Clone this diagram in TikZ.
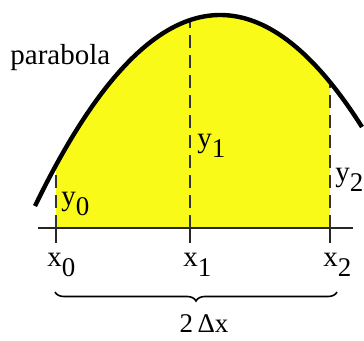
\documentclass[tikz,border=0pt]{standalone}
\usepackage{fontspec}
\setmainfont{Liberation Serif}
\usepackage{tikz}
\usetikzlibrary{decorations.pathreplacing}
\definecolor{areayellow}{RGB}{250,250,25}
\newcommand{\subl}[2]{#1\raisebox{-5pt}{\fontsize{13.5}{14}\selectfont #2}}
\newcommand{\pb}[1]{15+0.005566*(#1-220.2)*(#1-220.2)}
\tikzset{
  lab/.style={inner sep=0pt, font=\fontsize{14.5}{16}\selectfont},
  guide/.style={black!80, line width=0.9pt, dash pattern=on 6.5pt off 3.5pt},
  tick/.style={black!85, line width=0.75pt}
}

\begin{document}
\begin{tikzpicture}[x=0.5pt,y=-0.5pt]
\useasboundingbox (0,0) rectangle (364,341);
\coordinate (x0) at (56,228);
\coordinate (x1) at (190,228);
\coordinate (x2) at (330,228);
\coordinate (p0) at (56,{\pb{56}});
\coordinate (p1) at (190,{\pb{190}});
\coordinate (p2) at (330,{\pb{330}});
\coordinate (axl) at (38,228);
\coordinate (axr) at (353,228);
\fill[areayellow] (x0) -- plot[domain=56:330, samples=60] (\x,{\pb{\x}}) -- (x2) -- cycle;
\draw[tick] (axl) -- (axr);
\draw[tick] (x0) -- ++(0,15);
\draw[tick] (x1) -- ++(0,15);
\draw[tick] (x2) -- ++(0,15);
\draw[guide] (x0) -- (p0);
\draw[guide] (x1) -- (p1);
\draw[guide] (x2) -- (p2);
\draw[line width=2.2pt] plot[domain=35:362, samples=80] (\x,{\pb{\x}});
\node[lab, anchor=base west] (para) at (10,65) {parabola};
\node[lab, anchor=base west] (ylab0) at (61,206) {\subl{y}{0}};
\node[lab, anchor=base west] (ylab1) at (197,148) {\subl{y}{1}};
\node[lab, anchor=base west] (ylab2) at (335,182) {\subl{y}{2}};
\node[lab, anchor=base west] (xlab0) at (47,267) {\subl{x}{0}};
\node[lab, anchor=base west] (xlab1) at (183,267) {\subl{x}{1}};
\node[lab, anchor=base west] (xlab2) at (323,267) {\subl{x}{2}};
\coordinate (bl) at (55,292);
\coordinate (br) at (337,292);
\draw[line width=0.8pt, decorate, decoration={brace, mirror, amplitude=4.5pt}] (bl) -- (br);
\node[lab, anchor=base, font=\fontsize{13.5}{15}\selectfont] (width) at (204,333) {2\,Δx};
\end{tikzpicture}
\end{document}
